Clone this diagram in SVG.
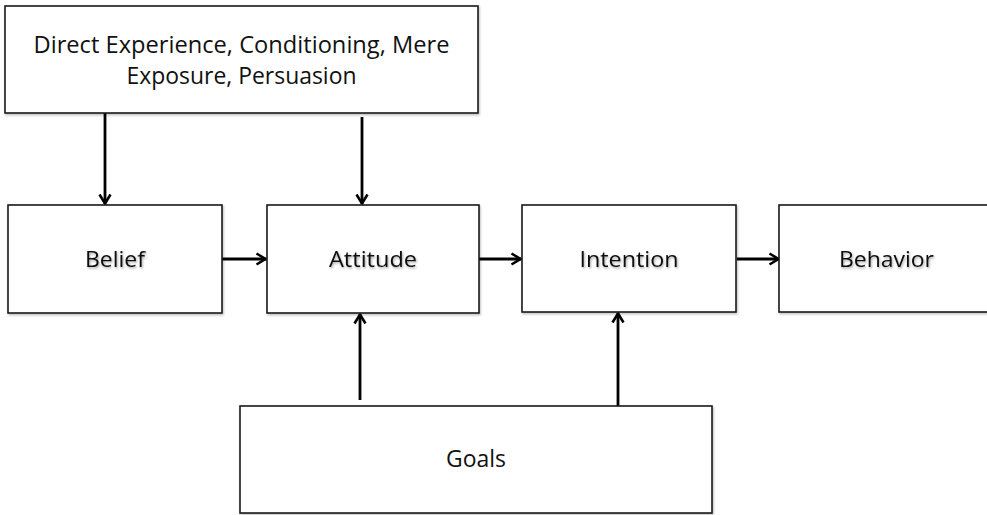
<svg xmlns="http://www.w3.org/2000/svg" width="987" height="515" viewBox="0 0 987 515">
  <defs>
    <style>
      .box { fill: #ffffff; stroke: #1a1a1a; stroke-width: 1.6; }
      .lbl { font-family: "Open Sans", "Liberation Sans", sans-serif; font-size: 22.5px; fill: #111111; text-anchor: middle; }
      .big { font-family: "Open Sans", "Liberation Sans", sans-serif; font-size: 23px; fill: #111111; text-anchor: middle; }
      .conn { stroke: #000000; stroke-width: 2.8; fill: none; marker-end: url(#arr); }
    </style>
    <marker id="arr" viewBox="0 0 14 14" refX="12.5" refY="7" markerWidth="14" markerHeight="14" markerUnits="userSpaceOnUse" orient="auto">
      <path d="M3,1.5 L12,7 L3,12.5" fill="none" stroke="#000" stroke-width="2.6" stroke-linejoin="miter"/>
    </marker>
    <filter id="bs" x="-5%" y="-5%" width="115%" height="120%">
      <feDropShadow dx="1" dy="1.5" stdDeviation="1" flood-color="#000" flood-opacity="0.25"/>
    </filter>
    <filter id="ts" x="-10%" y="-20%" width="130%" height="150%">
      <feDropShadow dx="1" dy="1.5" stdDeviation="1" flood-color="#000" flood-opacity="0.35"/>
    </filter>
  </defs>
  <rect width="987" height="515" fill="#ffffff"/>

  <g id="connectors">
    <line class="conn" x1="105" y1="113" x2="105" y2="204"/>
    <line class="conn" x1="362" y1="117" x2="362" y2="204"/>
    <line class="conn" x1="222" y1="259" x2="266" y2="259"/>
    <line class="conn" x1="479" y1="259" x2="521" y2="259"/>
    <line class="conn" x1="737" y1="259" x2="779" y2="259"/>
    <line class="conn" x1="360" y1="400" x2="360" y2="314"/>
    <line class="conn" x1="618" y1="406" x2="618" y2="313"/>
  </g>

  <g id="sources">
    <rect class="box" filter="url(#bs)" x="5" y="6" width="473" height="107"/>
    <text class="big" x="241.5" y="53" textLength="416" lengthAdjust="spacingAndGlyphs">Direct Experience, Conditioning, Mere</text>
    <text class="big" x="241.5" y="84" textLength="230" lengthAdjust="spacingAndGlyphs">Exposure, Persuasion</text>
  </g>

  <g id="belief">
    <rect class="box" filter="url(#bs)" x="8" y="205" width="214" height="108"/>
    <text class="lbl" filter="url(#ts)" x="115" y="267" textLength="60" lengthAdjust="spacingAndGlyphs">Belief</text>
  </g>

  <g id="attitude">
    <rect class="box" filter="url(#bs)" x="267" y="205" width="212" height="108"/>
    <text class="lbl" filter="url(#ts)" x="373" y="267" textLength="88" lengthAdjust="spacingAndGlyphs">Attitude</text>
  </g>

  <g id="intention">
    <rect class="box" filter="url(#bs)" x="522" y="205" width="214" height="107"/>
    <text class="lbl" filter="url(#ts)" x="629" y="267" textLength="99" lengthAdjust="spacingAndGlyphs">Intention</text>
  </g>

  <g id="behavior">
    <rect class="box" filter="url(#bs)" x="779" y="205" width="215" height="107"/>
    <text class="lbl" filter="url(#ts)" x="886.5" y="267" textLength="95" lengthAdjust="spacingAndGlyphs">Behavior</text>
  </g>

  <g id="goals">
    <rect class="box" filter="url(#bs)" x="240" y="406" width="472" height="107"/>
    <text class="big" x="476" y="467" textLength="60" lengthAdjust="spacingAndGlyphs">Goals</text>
  </g>
</svg>
